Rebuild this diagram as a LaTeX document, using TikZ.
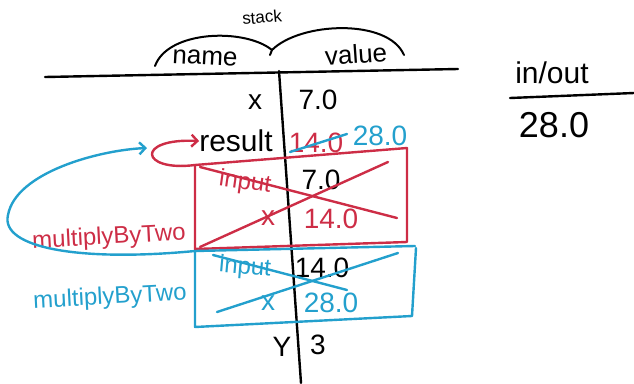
\documentclass[tikz,border=0pt]{standalone}
\usepackage{fontspec}
\setmainfont{Liberation Sans}
\usetikzlibrary{arrows.meta}
\definecolor{redpen}{RGB}{205,45,70}
\definecolor{bluepen}{RGB}{35,160,205}
\newcommand\fsz[1]{\fontsize{#1}{#1}\selectfont}
\begin{document}
\begin{tikzpicture}[x=1pt,y=-1pt,
  pen/.style={line width=2.4pt,line cap=round,line join=round},
  lbl/.style={inner sep=0pt,font=\fsz{28}},
  mid/.style={inner sep=0pt,font=\fsz{24}},
  tip/.style={-{Straight Barb[length=6pt,width=12pt,line width=2.4pt]}}]
\useasboundingbox (0,0) rectangle (634,383);
% header
\node[inner sep=0pt,font=\fsz{17},rotate=5] (stack) at (262,17) {stack};
\node[mid,font=\fsz{26},rotate=-3] (name) at (205,58) {name};
\node[mid,font=\fsz{26},rotate=4] (value) at (356,54) {value};
\draw[pen,line width=2pt] (155,66) .. controls (168,30) and (245,28) .. (272,50) -- (270,55);
\draw[pen,line width=2pt] (272,50) .. controls (300,22) and (388,18) .. (404,55);
\draw[pen] (45,77) -- (458,69);
\draw[pen] (279,71) -- (301,383);
% rows
\node[lbl] (x) at (255,102) {x};
\node[lbl] (xv) at (318,100) {7.0};
\node[lbl,font=\fsz{30}] (result) at (236,141) {result};
\node[lbl,text=redpen] (rv1) at (316,143) {14.0};
\node[lbl,text=bluepen] (rv2) at (380,136) {28.0};
\draw[pen,bluepen] (290,152) -- (347,134);
% red frame
\node[mid,text=redpen,rotate=-8] (in1) at (245,183) {input};
\node[lbl] (in1v) at (321,180) {7.0};
\node[lbl,text=redpen] (x1) at (268,218) {x};
\node[lbl,text=redpen] (x1v) at (331,219) {14.0};
\node[mid,text=redpen,rotate=3] (f1) at (109,238) {multiplyByTwo};
\draw[pen,redpen] (195,165) -- (195,249) -- (407,242) -- (407,148);
\draw[pen,redpen,tip] (407,148) -- (195,165) .. controls (140,172) and (135,138) .. (result.west);
\draw[pen,redpen] (200,167) -- (397,218);
\draw[pen,redpen] (200,247) -- (388,162);
% blue frame
\node[mid,text=bluepen,rotate=-5] (in2) at (245,268) {input};
\node[lbl] (in2v) at (322,268) {14.0};
\node[lbl,text=bluepen] (x2) at (268,303) {x};
\node[lbl,text=bluepen] (x2v) at (331,303) {28.0};
\node[mid,text=bluepen,rotate=3] (f2) at (110,298) {multiplyByTwo};
\draw[pen,bluepen] (415,246) -- (195,251) -- (195,327) -- (412,316) -- (416,248);
\draw[pen,bluepen] (213,255) -- (347,290);
\draw[pen,bluepen] (217,312) -- (398,253);
\coordinate (bluetip) at (147,148);
\draw[pen,bluepen,tip] (195,251) .. controls (80,262) and (0,248) .. (8,215) .. controls (16,172) and (100,150) .. (bluetip);
% bottom
\node[lbl] (y) at (282,347) {Y};
\node[lbl] (yv) at (318,345) {3};
% in/out
\node[lbl,font=\fsz{30}] (io) at (552,73) {in/out};
\draw[pen] (510,98) -- (634,93);
\node[lbl,font=\fsz{36}] (iov) at (554,125) {28.0};
\end{tikzpicture}
\end{document}
